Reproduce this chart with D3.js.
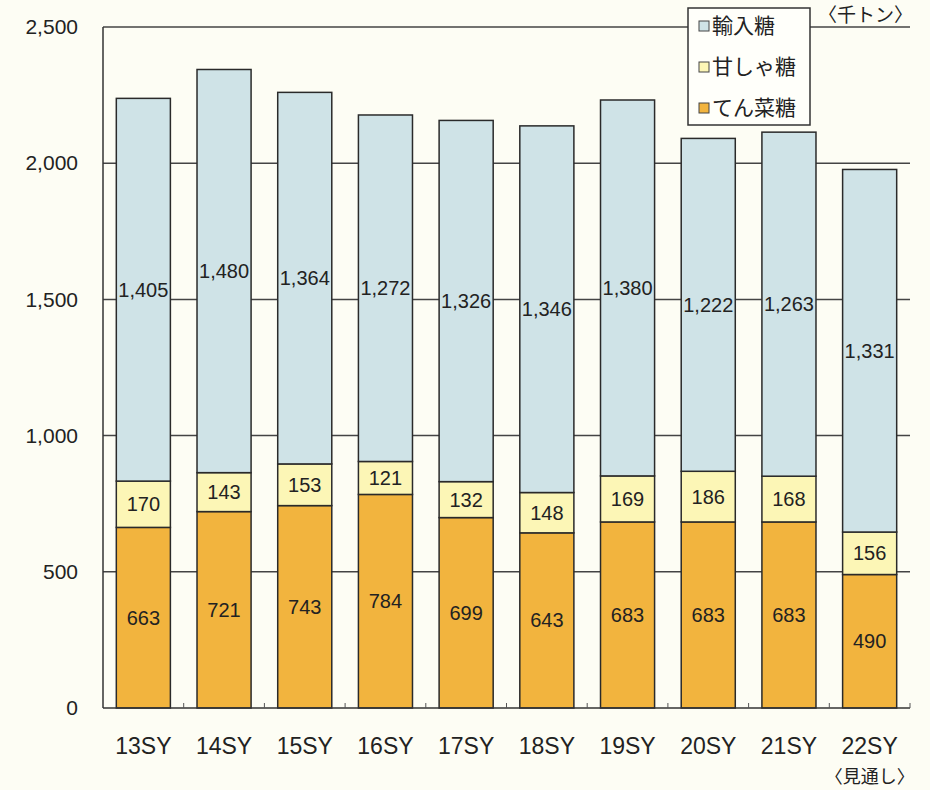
<!DOCTYPE html>
<html>
<head>
<meta charset="utf-8">
<script src="https://cdn.jsdelivr.net/npm/d3@7"></script>
<style>
  body { margin: 0; background: #fdfdf4; }
  svg { display: block; }
  text { font-family: "Liberation Sans", Arial, "Noto Sans CJK JP", sans-serif; fill: #222; }
  .jp { font-family: "Noto Sans CJK JP", sans-serif; }
</style>
</head>
<body>
<div class="chart"></div>
<script>
// data (thousand tons)
var years = ["13SY", "14SY", "15SY", "16SY", "17SY", "18SY", "19SY", "20SY", "21SY", "22SY"];
var beetSugar = [663, 721, 743, 784, 699, 643, 683, 683, 683, 490];   // てん菜糖
var caneSugar = [170, 143, 153, 121, 132, 148, 169, 186, 168, 156];   // 甘しゃ糖
var imported = [1405, 1480, 1364, 1272, 1326, 1346, 1380, 1222, 1263, 1331]; // 輸入糖
var yTicks = [0, 500, 1000, 1500, 2000, 2500];

var seriesNames = ["てん菜糖", "甘しゃ糖", "輸入糖"];
var seriesColors = ["#f2b43e", "#fcf6b6", "#cfe3e7"];

var svgWidth = 930, svgHeight = 790;
var margin = { top: 27, right: 20, bottom: 82, left: 103 };
var width = svgWidth - margin.left - margin.right;
var height = svgHeight - margin.top - margin.bottom;

var svg = d3.select(".chart").append("svg")
    .attr("width", svgWidth)
    .attr("height", svgHeight);

var chartGroup = svg.append("g")
    .attr("transform", `translate(${margin.left}, ${margin.top})`);

// build rows for the stack
var rows = years.map(function(y, i) {
    return { year: y, "てん菜糖": beetSugar[i], "甘しゃ糖": caneSugar[i], "輸入糖": imported[i] };
});
var stacked = d3.stack().keys(seriesNames)(rows);

var xScale = d3.scaleBand()
    .domain(years)
    .range([0, width])
    .paddingInner(0.33)
    .paddingOuter(0.165);

var yScale = d3.scaleLinear()
    .domain([0, 2500])
    .range([height, 0]);

// gridlines
chartGroup.selectAll(".grid")
    .data(yTicks.filter(d => d > 0))
    .enter()
    .append("line")
    .attr("x1", 0)
    .attr("x2", width)
    .attr("y1", d => yScale(d))
    .attr("y2", d => yScale(d))
    .attr("stroke", "#444")
    .attr("stroke-width", 1.5);

// y axis labels
var leftAxis = d3.axisLeft(yScale)
    .tickValues(yTicks)
    .tickFormat(d3.format(","))
    .tickSize(0)
    .tickPadding(25);
var yAxisG = chartGroup.append("g").call(leftAxis);
yAxisG.select(".domain").remove();
yAxisG.selectAll("text")
    .style("font-size", "21px")
    .style("font-family", "'Liberation Sans', Arial, sans-serif")
    .attr("fill", "#222");

// bars
var layer = chartGroup.selectAll(".layer")
    .data(stacked)
    .enter()
    .append("g")
    .attr("fill", (d, i) => seriesColors[i]);

layer.selectAll("rect")
    .data(d => d)
    .enter()
    .append("rect")
    .attr("x", d => xScale(d.data.year))
    .attr("y", d => yScale(d[1]))
    .attr("width", xScale.bandwidth())
    .attr("height", d => yScale(d[0]) - yScale(d[1]))
    .attr("stroke", "#2a2a2a")
    .attr("stroke-width", 1.5);

// value labels
layer.selectAll("text")
    .data(d => d)
    .enter()
    .append("text")
    .attr("x", d => xScale(d.data.year) + xScale.bandwidth() / 2)
    .attr("y", d => yScale((d[0] + d[1]) / 2))
    .attr("dy", "0.35em")
    .attr("text-anchor", "middle")
    .style("font-size", "20px")
    .text(d => d3.format(",")(d[1] - d[0]));

// axis lines
chartGroup.append("line")
    .attr("x1", 0).attr("x2", 0)
    .attr("y1", 0).attr("y2", height)
    .attr("stroke", "#333").attr("stroke-width", 1.5);
chartGroup.append("line")
    .attr("x1", 0).attr("x2", width)
    .attr("y1", height).attr("y2", height)
    .attr("stroke", "#333").attr("stroke-width", 1.5);

// small ticks between categories
var step = xScale.step();
chartGroup.selectAll(".xtick")
    .data(d3.range(1, years.length + 1))
    .enter()
    .append("line")
    .attr("x1", d => d * step)
    .attr("x2", d => d * step)
    .attr("y1", height)
    .attr("y2", height - 5)
    .attr("stroke", "#555");

// category labels
var bottomAxis = d3.axisBottom(xScale).tickSize(0).tickPadding(30);
var xAxisG = chartGroup.append("g")
    .attr("transform", `translate(0, ${height})`)
    .call(bottomAxis);
xAxisG.select(".domain").remove();
xAxisG.selectAll("text")
    .style("font-size", "23px")
    .style("font-family", "'Liberation Sans', Arial, sans-serif")
    .attr("fill", "#222");

chartGroup.append("text")
    .attr("class", "jp")
    .attr("x", xScale("22SY") + xScale.bandwidth() / 2)
    .attr("y", height + 75)
    .attr("text-anchor", "middle")
    .style("font-size", "18px")
    .text("〈見通し〉");

// unit label
svg.append("text")
    .attr("class", "jp")
    .attr("x", 818)
    .attr("y", 22)
    .style("font-size", "19px")
    .text("〈千トン〉");

// legend
var legend = svg.append("g").attr("transform", "translate(688, 8)");
legend.append("rect")
    .attr("width", 122)
    .attr("height", 117)
    .attr("fill", "#fffffa")
    .attr("stroke", "#333")
    .attr("stroke-width", 1.5);

var legendItems = [2, 1, 0];
legend.selectAll(".item")
    .data(legendItems)
    .enter()
    .append("g")
    .attr("transform", (d, i) => `translate(11, ${18 + i * 41})`)
    .each(function(d) {
        var g = d3.select(this);
        g.append("rect")
            .attr("x", 0).attr("y", -5)
            .attr("width", 10).attr("height", 10)
            .attr("fill", seriesColors[d])
            .attr("stroke", "#444");
        g.append("text")
            .attr("class", "jp")
            .attr("x", 13)
            .attr("dy", "0.35em")
            .style("font-size", "21px")
            .text(seriesNames[d]);
    });
</script>
</body>
</html>
